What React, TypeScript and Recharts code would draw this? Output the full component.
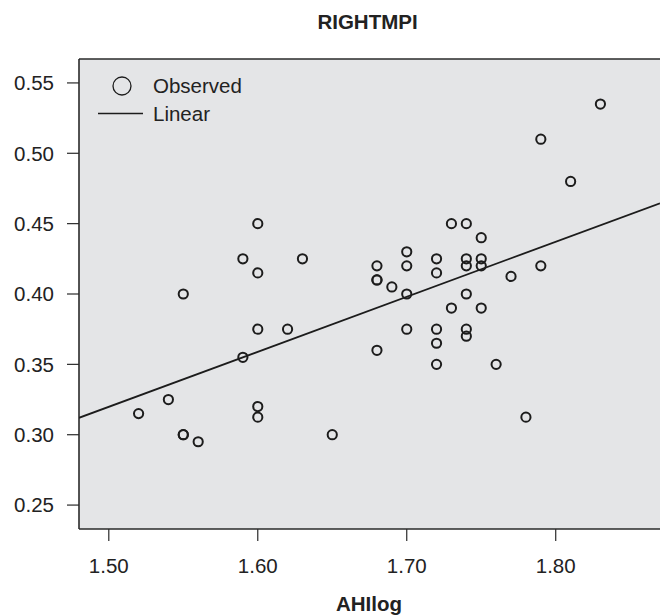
import React from 'react';
import {
  ScatterChart,
  Scatter,
  XAxis,
  YAxis,
  CartesianGrid,
  ReferenceLine,
} from 'recharts';

const ahiLog = [
  1.52, 1.54, 1.55, 1.55, 1.56, 1.55, 1.59, 1.59, 1.6, 1.6, 1.6, 1.6, 1.6,
  1.62, 1.63, 1.65, 1.68, 1.68, 1.68, 1.68, 1.69, 1.7, 1.7, 1.7, 1.7, 1.72,
  1.72, 1.72, 1.72, 1.72, 1.73, 1.73, 1.74, 1.74, 1.74, 1.74, 1.74, 1.74,
  1.75, 1.75, 1.75, 1.75, 1.76, 1.77, 1.78, 1.79, 1.79, 1.81, 1.83,
];
const rightMpi = [
  0.315, 0.325, 0.3, 0.3, 0.295, 0.4, 0.425, 0.355, 0.45, 0.415, 0.375, 0.32,
  0.3125, 0.375, 0.425, 0.3, 0.42, 0.41, 0.41, 0.36, 0.405, 0.43, 0.42, 0.4,
  0.375, 0.425, 0.415, 0.375, 0.365, 0.35, 0.45, 0.39, 0.45, 0.425, 0.42, 0.4,
  0.375, 0.37, 0.44, 0.425, 0.42, 0.39, 0.35, 0.4125, 0.3125, 0.51, 0.42,
  0.48, 0.535,
];

// linear fit line end points
const fitX = [1.48, 1.87];
const fitY = [0.312, 0.4645];

const xTicks = [1.5, 1.6, 1.7, 1.8];
const yTicks = [0.25, 0.3, 0.35, 0.4, 0.45, 0.5, 0.55];

const observed = ahiLog.map((x, i) => ({ x, y: rightMpi[i] }));
const fitLine = fitX.map((x, i) => ({ x, y: fitY[i] }));

const INK = '#1c1c1c';
const FONT = 'Liberation Sans, Arial, sans-serif';

const Ring = (props: any) => {
  const { cx, cy } = props;
  if (cx == null || cy == null) return <g />;
  return <circle cx={cx} cy={cy} r={4.6} fill="none" stroke={INK} strokeWidth={2} />;
};

export default function App() {
  return (
    <div style={{ position: 'absolute', left: 0, top: 0, background: '#fff' }}>
      <ScatterChart
        width={660}
        height={615}
        margin={{ top: 59, right: 0, bottom: 0, left: 0 }}
      >
        <CartesianGrid fill="#e4e5e7" horizontal={false} vertical={false} />
        <XAxis
          type="number"
          dataKey="x"
          domain={[1.48, 1.87]}
          allowDataOverflow
          ticks={xTicks}
          tickFormatter={(v: number) => v.toFixed(2)}
          height={86}
          tickSize={12}
          tickMargin={17}
          axisLine={{ stroke: '#2a2a2a', strokeWidth: 1.6 }}
          tickLine={{ stroke: '#2a2a2a', strokeWidth: 1.2 }}
          tick={{ fill: '#222', fontSize: 20.5, fontFamily: FONT }}
        />
        <YAxis
          type="number"
          dataKey="y"
          domain={[0.233, 0.567]}
          allowDataOverflow
          ticks={yTicks}
          tickFormatter={(v: number) => v.toFixed(2)}
          width={79}
          tickSize={12}
          tickMargin={13}
          axisLine={{ stroke: '#2a2a2a', strokeWidth: 1.6 }}
          tickLine={{ stroke: '#2a2a2a', strokeWidth: 1.2 }}
          tick={{ fill: '#222', fontSize: 20.5, fontFamily: FONT }}
        />
        <ReferenceLine y={0.567} stroke="#2a2a2a" strokeWidth={1.6} />
        <Scatter
          data={fitLine}
          line={{ stroke: INK, strokeWidth: 1.8 }}
          shape={() => <g />}
          isAnimationActive={false}
        />
        <Scatter data={observed} shape={Ring} isAnimationActive={false} />

        <text
          x={367.5}
          y={28.5}
          textAnchor="middle"
          fontFamily={FONT}
          fontWeight="bold"
          fontSize={20.5}
          fill="#222"
        >
          RIGHTMPI
        </text>
        <text
          x={369}
          y={611}
          textAnchor="middle"
          fontFamily={FONT}
          fontWeight="bold"
          fontSize={20.5}
          fill="#222"
        >
          AHIlog
        </text>

        {/* legend */}
        <circle cx={122} cy={86} r={9} fill="none" stroke={INK} strokeWidth={1.3} />
        <text x={153} y={93} fontFamily={FONT} fontSize={20.5} fill="#222">
          Observed
        </text>
        <line x1={98} y1={113.5} x2={143} y2={113.5} stroke={INK} strokeWidth={1.3} />
        <text x={153} y={121} fontFamily={FONT} fontSize={20.5} fill="#222">
          Linear
        </text>
      </ScatterChart>
    </div>
  );
}
